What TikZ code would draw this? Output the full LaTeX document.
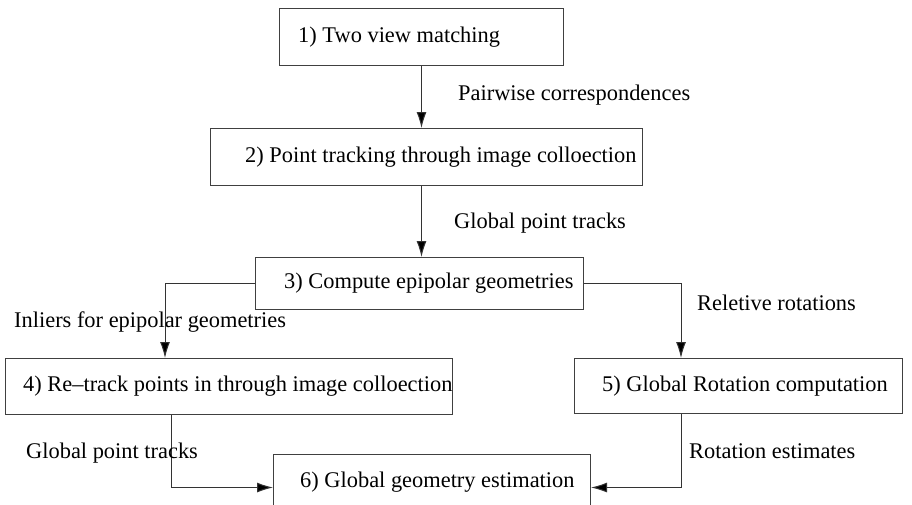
\documentclass[tikz,border=0pt]{standalone}
\usepackage{fontspec}
\setmainfont{Liberation Serif}
\usetikzlibrary{positioning,arrows.meta}
\begin{document}
\begin{tikzpicture}[x=1pt,y=-1pt,
  box/.style={draw=black!75,line width=1pt,anchor=north west,inner sep=0pt},
  txt/.style={inner sep=0pt,anchor=west,font=\fontsize{22.4}{26}\selectfont},
  flow/.style={draw=black!80,line width=1pt,-{Latex[length=16pt,width=10pt,fill=black]}}]
  \useasboundingbox (0,0) rectangle (912,504);

  \node[box,minimum width=284pt,minimum height=57pt] (b1) at (279,8) {};
  \node[box,minimum width=432pt,minimum height=57pt] (b2) at (210,128) {};
  \node[box,minimum width=328pt,minimum height=52pt] (b3) at (255,257) {};
  \node[box,minimum width=447pt,minimum height=56pt] (b4) at (5,358) {};
  \node[box,minimum width=328pt,minimum height=55pt] (b5) at (574,358) {};
  \node[box,minimum width=317pt,minimum height=66pt] (b6) at (273,454) {};

  \node[txt,right=19pt of b1.west] (t1) {1) Two view matching};
  \node[txt,right=35pt of b2.west] (t2) {2) Point tracking through image colloection};
  \node[txt,right=29pt of b3.west] (t3) {3) Compute epipolar geometries};
  \node[txt,right=18pt of b4.west] (t4) {4) Re\textendash track points in through image colloection};
  \node[txt,right=28pt of b5.west] (t5) {5) Global Rotation computation};
  \node[txt,right=27pt of b6.west,yshift=5pt] (t6) {6) Global geometry estimation};

  \draw[flow] (b1.south) -- (b1.south |- b2.north);
  \draw[flow] (b1.south |- b2.south) -- (b1.south |- b3.north);
  \draw[flow] (b3.west) -| ([xshift=160pt]b4.north west);
  \draw[flow] (b3.east) -| ([xshift=107pt]b5.north west);
  \draw[flow] ([xshift=166pt]b4.south west) |- (b6.west);
  \draw[flow] ([xshift=107pt]b5.south west) |- (b6.east);

  \node[txt] (l1) at (458,95) {Pairwise correspondences};
  \node[txt] (l2) at (454,223) {Global point tracks};
  \node[txt] (l3) at (14,322) {Inliers for epipolar geometries};
  \node[txt] (l4) at (697,303) {Reletive rotations};
  \node[txt] (l5) at (26,453) {Global point tracks};
  \node[txt] (l6) at (689,451) {Rotation estimates};
\end{tikzpicture}
\end{document}
